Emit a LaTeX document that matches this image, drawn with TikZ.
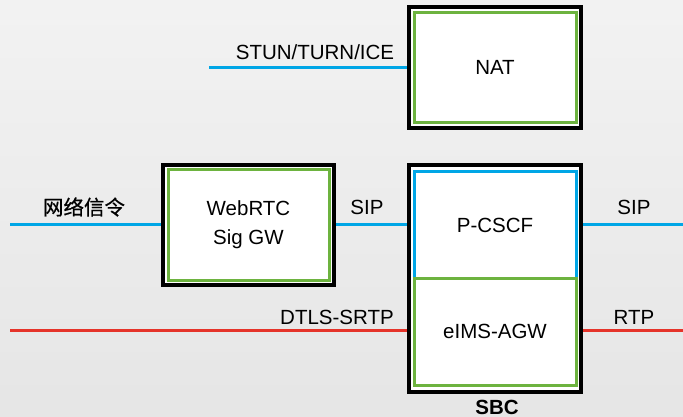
\documentclass[tikz,border=0pt]{standalone}
\usepackage{fontspec}
\setmainfont{Liberation Sans}
\newfontfamily\cjk{Noto Sans CJK SC}[FakeBold=0.6]
\usetikzlibrary{calc}
\definecolor{lblue}{HTML}{00A6E6}
\definecolor{lgreen}{HTML}{6DB33F}
\definecolor{lred}{HTML}{E5332A}
\begin{document}
\begin{tikzpicture}[x=1pt,y=-1pt,
  outerbox/.style={draw=black,line width=3.8pt,fill=white,inner sep=0pt},
  innerbox/.style={line width=3pt,inner sep=0pt,align=center},
  blueline/.style={draw=lblue,line width=3pt},
  redline/.style={draw=lred,line width=3pt},
  lbl/.style={inner sep=0pt,anchor=center},
  every node/.append style={font=\fontsize{20.5}{29}\selectfont}]
\shade[top color=white!95!black,bottom color=white!90!black] (0,0) rectangle (683,417);
\useasboundingbox (0,0) rectangle (683,417);
% coordinates for free ends
\coordinate (stunL) at (209,68);
\coordinate (sigL) at (10,224);
\coordinate (sipR) at (683,224);
\coordinate (mediaL) at (10,330);
\coordinate (rtpR) at (683,330);
% boxes
\node[outerbox,minimum width=172,minimum height=121] (nat) at (495,67.5) {};
\node[innerbox,draw=lgreen,minimum width=162,minimum height=110] (natin) at (nat) {NAT};
\node[outerbox,minimum width=171,minimum height=120] (web) at (248.5,225) {};
\node[innerbox,draw=lgreen,minimum width=161,minimum height=110] (webin) at (web) {WebRTC\\Sig GW};
\node[outerbox,minimum width=172,minimum height=227] (sbc) at (495,278.5) {};
\node[innerbox,draw=lblue,minimum width=162,minimum height=106] (pcscf) at (495,225) {P-CSCF};
\node[innerbox,draw=lgreen,minimum width=162,minimum height=107] (agw) at (495,331.5) {eIMS-AGW};
% connectors
\draw[blueline] (stunL) -- (stunL -| nat.west);
\draw[blueline] (sigL) -- (sigL -| web.west);
\draw[blueline] (sigL -| web.east) -- (sigL -| sbc.west);
\draw[blueline] (sigL -| sbc.east) -- (sipR);
\draw[redline] (mediaL) -- (mediaL -| sbc.west);
\draw[redline] (mediaL -| sbc.east) -- (rtpR);
% labels
\node[lbl] (tstun) at (315,52) {STUN/TURN/ICE};
\node[lbl] (tsig) at (84,207) {\cjk 网络信令};
\node[lbl] (tsip1) at (367,207) {SIP};
\node[lbl] (tsip2) at (634,207) {SIP};
\node[lbl] (tdtls) at (337,317) {DTLS-SRTP};
\node[lbl] (trtp) at (634,317) {RTP};
\node[lbl,font=\fontsize{20.5}{24}\selectfont\bfseries] (tsbc) at (497,407) {SBC};
\end{tikzpicture}
\end{document}
